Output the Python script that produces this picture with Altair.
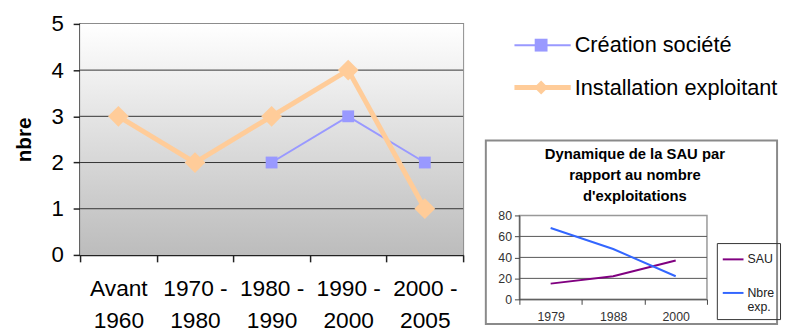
import altair as alt
import pandas as pd

FONT = "Liberation Sans"

# ---------------- data ----------------
periods = ["Avant\n1960", "1970 -\n1980", "1980 -\n1990", "1990 -\n2000", "2000 -\n2005"]
creation_societe = [None, None, 2, 3, 2]
installation_exploitant = [3, 2, 3, 4, 1]
series_names = ["Création société", "Installation exploitant"]
series_colors = ["#9999ff", "#ffcc99"]
series_shapes = ["square", "diamond"]
y_ticks = [0, 1, 2, 3, 4, 5]
y_grid = [1, 2, 3, 4]

inset_years = ["1979", "1988", "2000"]
sau = [15, 22, 37]
nbre_exp = [68, 48, 22]
inset_series = ["SAU", "Nbre exp."]
inset_colors = ["#800080", "#3366ff"]
inset_y_ticks = [0, 20, 40, 60, 80]
inset_grid = [20, 40, 60]
inset_title = ["Dynamique de la SAU par", "rapport au nombre", "d'exploitations"]

# ---------------- main chart ----------------
rows = []
for name, vals in zip(series_names, [creation_societe, installation_exploitant]):
    for p, v in zip(periods, vals):
        if v is not None:
            rows.append({"periode": p, "serie": name, "nbre": v})
main_df = pd.DataFrame(rows)

x_main = alt.X(
    "periode:N", sort=periods, title=None,
    scale=alt.Scale(type="band", domain=periods, paddingInner=0, paddingOuter=0),
    axis=alt.Axis(labelExpr="split(datum.label, '\\n')", labelAngle=0, labelFont=FONT,
                  labelFontSize=23, labelLineHeight=33, labelColor="black", labelPadding=16,
                  tickBand="extent", tickSize=7, tickColor="#222", tickWidth=1.5,
                  domainColor="#222", domainWidth=1.5, grid=False),
)


def y_main(field):
    return alt.Y(
        field, type="quantitative", title="nbre",
        scale=alt.Scale(domain=[0, 5], nice=False),
        axis=alt.Axis(values=y_ticks, grid=False, labelFont=FONT, labelFontSize=22.5,
                      labelColor="black", labelPadding=10, tickSize=7, tickColor="#222",
                      tickWidth=1.5, domainColor="#222", domainWidth=2, titleFont=FONT,
                      titleFontSize=21, titleFontWeight="bold", titleColor="black",
                      titlePadding=17),
    )


color_main = alt.Color("serie:N", scale=alt.Scale(domain=series_names, range=series_colors), legend=None)

bg = alt.Chart(pd.DataFrame({"haut": [5], "bas": [0]})).mark_rect(
    fill=alt.Gradient(gradient="linear", x1=0, x2=0, y1=0, y2=1,
                      stops=[alt.GradientStop(color="#ffffff", offset=0),
                             alt.GradientStop(color="#bcbcbc", offset=1)])
).encode(y=y_main("haut"), y2="bas")

grid_main = alt.Chart(pd.DataFrame({"nbre": y_grid})).mark_rule(color="#333333", strokeWidth=1).encode(
    y=y_main("nbre"))

blue = main_df[main_df.serie == series_names[0]]
orange = main_df[main_df.serie == series_names[1]]

line_blue = alt.Chart(blue).mark_line(strokeWidth=2).encode(x=x_main, y=y_main("nbre"), color=color_main)
pts_blue = alt.Chart(blue).mark_point(shape="square", filled=True, opacity=1, size=144).encode(
    x=x_main, y=y_main("nbre"), color=color_main)
line_orange = alt.Chart(orange).mark_line(strokeWidth=5).encode(x=x_main, y=y_main("nbre"), color=color_main)
pts_orange = alt.Chart(orange).mark_point(shape="diamond", filled=True, opacity=1, size=441).encode(
    x=x_main, y=y_main("nbre"), color=color_main)

main = alt.layer(bg, grid_main, line_blue, pts_blue, line_orange, pts_orange).properties(
    width=388, height=234, view=alt.ViewBackground(stroke="#8c8c8c", strokeWidth=2))

# ---------------- legend of main chart ----------------
legend_df = pd.DataFrame({"serie": series_names})
ly = alt.Y("serie:N", sort=series_names, axis=None, scale=alt.Scale(type="point", padding=0.5))
leg_rule_b = alt.Chart(legend_df[legend_df.serie == series_names[0]]).mark_rule(strokeWidth=2).encode(
    x=alt.value(-5), x2=alt.value(52), y=ly, color=color_main)
leg_rule_o = alt.Chart(legend_df[legend_df.serie == series_names[1]]).mark_rule(strokeWidth=5).encode(
    x=alt.value(-5), x2=alt.value(52), y=ly, color=color_main)
leg_pts = alt.Chart(legend_df).mark_point(filled=True, opacity=1).encode(
    x=alt.value(22), y=ly, color=color_main,
    shape=alt.Shape("serie:N", scale=alt.Scale(domain=series_names, range=series_shapes), legend=None),
    size=alt.Size("serie:N", scale=alt.Scale(domain=series_names, range=[169, 200]), legend=None))
leg_txt = alt.Chart(legend_df).mark_text(align="left", baseline="middle", font=FONT, fontSize=22,
                                         color="black").encode(x=alt.value(56), y=ly, text="serie:N")
legend_chart = alt.layer(leg_rule_b, leg_rule_o, leg_pts, leg_txt).properties(
    width=250, height=86, view=alt.ViewBackground(strokeWidth=0))

# ---------------- inset chart ----------------
inset_rows = []
for name, vals in zip(inset_series, [sau, nbre_exp]):
    for yr, v in zip(inset_years, vals):
        inset_rows.append({"annee": yr, "courbe": name, "valeur": v})
inset_df = pd.DataFrame(inset_rows)

x_in = alt.X("annee:N", sort=inset_years, title=None,
             scale=alt.Scale(type="band", domain=inset_years, paddingInner=0, paddingOuter=0),
             axis=alt.Axis(labelAngle=0, labelFont=FONT, labelFontSize=12.5, labelColor="#333",
                           labelPadding=6, tickBand="extent", tickSize=5, tickColor="#444",
                           domainColor="#444", grid=False))


def y_in(field):
    return alt.Y(field, type="quantitative", title=None, scale=alt.Scale(domain=[0, 80], nice=False),
                 axis=alt.Axis(values=inset_y_ticks, grid=False, labelFont=FONT, labelFontSize=12.5,
                               labelColor="#333", labelPadding=3, tickSize=5, tickColor="#444",
                               domainColor="#444"))


box = alt.Chart(pd.DataFrame({"a": [0]})).mark_rect(
    fillOpacity=0, stroke="#8a8a8a", strokeWidth=2, clip=False).encode(
    x=alt.value(-34), x2=alt.value(261), y=alt.value(-76), y2=alt.value(110))

title_in = alt.Chart(pd.DataFrame({"titre": ["\n".join(inset_title)]})).mark_text(
    lineBreak="\n", align="center", baseline="top", font=FONT, fontSize=15, fontWeight="bold",
    lineHeight=21, color="black", clip=False).encode(
    x=alt.value(117), y=alt.value(-69), text="titre:N")

grid_in = alt.Chart(pd.DataFrame({"valeur": inset_grid})).mark_rule(color="#555555", strokeWidth=1).encode(
    y=y_in("valeur"))

lines_in = alt.Chart(inset_df).mark_line(strokeWidth=2).encode(
    x=x_in, y=y_in("valeur"),
    color=alt.Color("courbe:N", scale=alt.Scale(domain=inset_series, range=inset_colors),
                    legend=alt.Legend(title=None, orient="none", legendX=200, legendY=28,
                                      direction="vertical", symbolType="stroke", symbolStrokeWidth=2,
                                      symbolSize=441, labelFont=FONT, labelFontSize=12.5,
                                      labelOffset=3, labelColor="#222",
                                      labelExpr="split(datum.label, ' ')",
                                      strokeColor="#333", padding=5, rowPadding=16)))

inset = alt.layer(box, title_in, grid_in, lines_in).properties(
    width=190, height=85,
    view=alt.ViewBackground(stroke="#999999", strokeWidth=1.5))

right = alt.vconcat(legend_chart, inset, spacing=30).resolve_scale(color="independent")

chart = alt.hconcat(main, right, spacing=19).resolve_scale(color="independent").properties(
    padding={"left": 4, "top": 2, "right": 0, "bottom": 0}
).configure(font=FONT, background="white")

chart.save("out.html", embed_options={"renderer": "svg", "actions": False})
